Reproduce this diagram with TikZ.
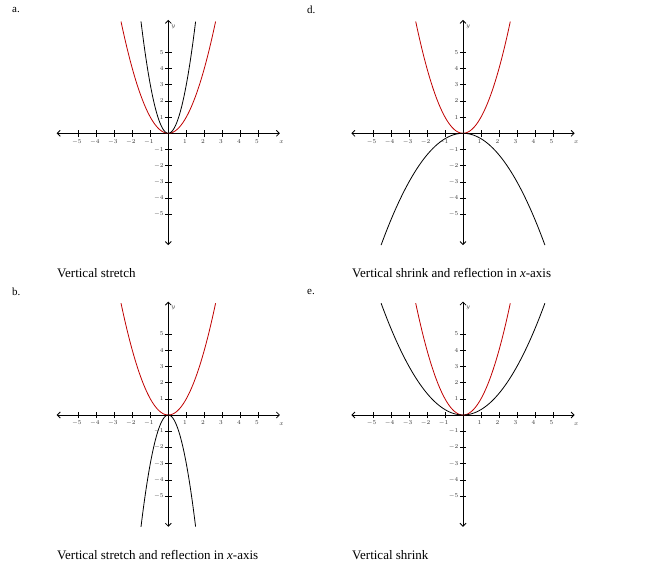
\documentclass[tikz,border=0pt]{standalone}
\usepackage{fontspec}
\setmainfont{Liberation Serif}
\usetikzlibrary{arrows.meta}
\tikzset{ax/.style={line width=0.8pt,{Straight Barb[length=3pt,width=6pt]}-{Straight Barb[length=3pt,width=6pt]}},
 tk/.style={font=\fontsize{6.5}{7}\selectfont,text=black!80,inner sep=1pt},
 redc/.style={draw=red!75!black,line width=0.8pt,samples=80},
 blkc/.style={draw=black,line width=0.8pt,samples=80},
 lab/.style={font=\fontsize{11}{12}\selectfont,anchor=west,inner sep=0pt},
 captxt/.style={font=\fontsize{13}{14}\selectfont,anchor=west,inner sep=0pt}}
\newcommand\mypanel[5]{%
\begin{scope}[shift={(#1pt,{(587-#2)*1pt})},x=18pt,y=16.2pt]
\draw[ax] (-6.2,0) -- (6.2,0);
\draw[ax] (0,7) -- (0,-6.9);
\foreach \i in {-5,...,-1,1,2,...,5}{
 \draw[line width=0.6pt] (\i,-0.2) -- (\i,0.2);
 \draw[line width=0.6pt] (-0.18,\i) -- (0.18,\i);
 \node[tk,below] (#5x\i) at ({\i-0.08},-0.3) {$\i$};
 \node[tk,left] (#5y\i) at (-0.2,\i) {$\i$};}
\node[tk,right] (#5lx) at (6.1,-0.55) {$x$};
\node[tk,right] (#5ly) at (0.1,6.6) {$y$};
\draw[redc,domain=-2.627:2.627] plot (\x,{\x*\x});
\draw[blkc,domain=-#4:#4] plot (\x,{#3*\x*\x});
\end{scope}}
\begin{document}
\begin{tikzpicture}
\useasboundingbox (0,0) rectangle (653pt,587pt);
\mypanel{168.3}{133.3}{3}{1.517}{a}
\mypanel{463}{133.3}{-0.3333}{4.55}{d}
\mypanel{168.3}{415}{-3}{1.517}{b}
\mypanel{463}{415}{0.3333}{4.55}{e}
\node[lab] (la) at (12pt,577pt) {a.};
\node[lab] (ld) at (307pt,577pt) {d.};
\node[lab] (lb) at (12pt,295pt) {b.};
\node[lab] (le) at (307pt,295pt) {e.};
\node[captxt] (ca) at (57pt,314pt) {Vertical stretch};
\node[captxt] (cd) at (352pt,314pt) {Vertical shrink and reflection in \textit{x}-axis};
\node[captxt] (cb) at (57pt,32pt) {Vertical stretch and reflection in \textit{x}-axis};
\node[captxt] (ce) at (352pt,32pt) {Vertical shrink};
\end{tikzpicture}
\end{document}
